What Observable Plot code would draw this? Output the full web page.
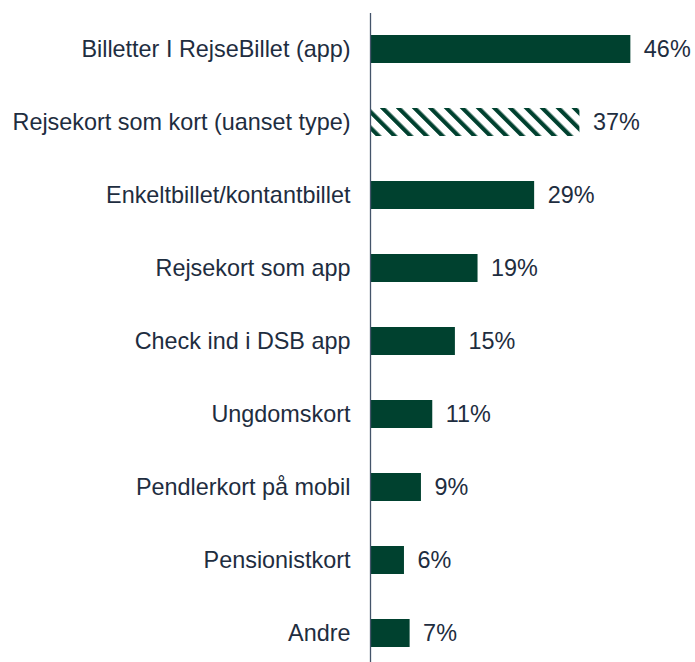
<!DOCTYPE html>
<html>
<head>
<meta charset="utf-8">
<script src="https://cdn.jsdelivr.net/npm/d3@7"></script>
<script src="https://cdn.jsdelivr.net/npm/@observablehq/plot@0.6"></script>
<style>
  html, body { margin: 0; padding: 0; background: #fff; }
  #chart svg { display: block; }
</style>
</head>
<body>
<div id="chart"></div>
<script>
const categories = [
  "Billetter I RejseBillet (app)",
  "Rejsekort som kort (uanset type)",
  "Enkeltbillet/kontantbillet",
  "Rejsekort som app",
  "Check ind i DSB app",
  "Ungdomskort",
  "Pendlerkort på mobil",
  "Pensionistkort",
  "Andre"
];
const values = [46, 37, 29, 19, 15, 11, 9, 6, 7];
const hatched = [false, true, false, false, false, false, false, false, false];

const data = categories.map((c, i) => ({ category: c, value: values[i], hatched: hatched[i] }));

const barColor = "#00412f";
const textColor = "#1e2d40";

const chart = Plot.plot({
  width: 695,
  height: 662,
  marginTop: 13,
  marginBottom: 0,
  marginLeft: 370,
  marginRight: 42,
  style: { fontFamily: "Liberation Sans, Arial, sans-serif", fontSize: "23.4px", color: textColor, background: "#fff" },
  x: { domain: [0, 50], axis: null },
  y: { domain: categories, paddingInner: 0.6164, paddingOuter: 0.253, align: 0.595, label: null },
  marks: [
    Plot.barX(data.filter(d => !d.hatched), { x: "value", y: "category", fill: barColor }),
    Plot.barX(data.filter(d => d.hatched), { x: "value", y: "category", fill: "url(#hatch)" }),
    Plot.axisY({ tickSize: 0, tickPadding: 20, fontSize: 23.4, fill: textColor, label: null }),
    Plot.ruleX([0], { stroke: "#44546a", strokeWidth: 1.3 }),
    Plot.text(data, { x: "value", y: "category", text: d => d.value + "%", dx: 13, textAnchor: "start", fontSize: 23.4, fill: textColor })
  ]
});

const svg = d3.select(chart);
const defs = svg.insert("defs", ":first-child");
const pat = defs.append("pattern")
  .attr("id", "hatch")
  .attr("patternUnits", "userSpaceOnUse")
  .attr("width", 11.3)
  .attr("height", 11.3)
  .attr("patternTransform", "rotate(-45)");
pat.append("rect").attr("width", 11.3).attr("height", 11.3).attr("fill", "#fff");
pat.append("rect").attr("width", 4.2).attr("height", 11.3).attr("fill", barColor);

document.getElementById("chart").appendChild(chart);
</script>
</body>
</html>
